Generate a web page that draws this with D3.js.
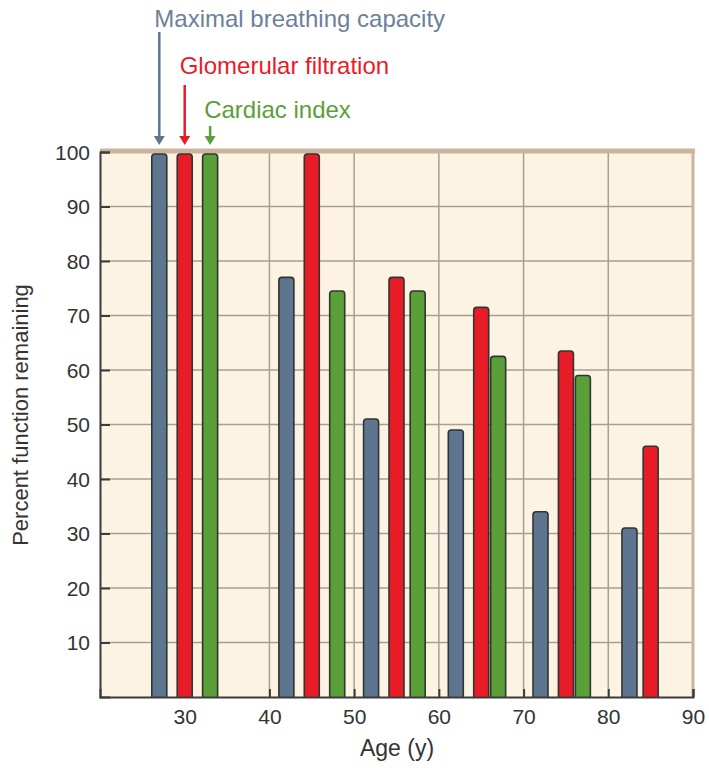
<!DOCTYPE html>
<html>
<head>
    <style>
        body { margin: 0; background: #fff; }
        text { font-family: "Liberation Sans", Arial, sans-serif; }
        .tick text { font-size: 21px; fill: #333; }
    </style>
    <script src="https://d3js.org/d3.v7.min.js"></script>
</head>
<body>
    <svg width="709" height="768"></svg>
    <script>
        // values
        const breathingAge = [27, 42, 52, 62, 72, 82.5]
        const breathingVal = [100, 77, 51, 49, 34, 31]
        const filtrationAge = [30, 45, 55, 65, 75, 85]
        const filtrationVal = [100, 100, 77, 71.5, 63.5, 46]
        const cardiacAge = [33, 48, 57.5, 67, 77]
        const cardiacVal = [100, 74.5, 74.5, 62.5, 59]
        const xTicks = [30, 40, 50, 60, 70, 80, 90]
        const yTicks = [10, 20, 30, 40, 50, 60, 70, 80, 90, 100]

        const series = [
            { name: "Maximal breathing capacity", color: "#5e7590", text: "#6c8198", ages: breathingAge, vals: breathingVal, labelY: 27, arrowTop: 32, labelDx: -5 },
            { name: "Glomerular filtration", color: "#e81c27", text: "#e81c27", ages: filtrationAge, vals: filtrationVal, labelY: 74, arrowTop: 85, labelDx: -5 },
            { name: "Cardiac index", color: "#5b9f38", text: "#5b9f38", ages: cardiacAge, vals: cardiacVal, labelY: 118, arrowTop: 126, labelDx: -6 }
        ]

        const pLeft = 100, pRight = 693, pTop = 152, pBottom = 697
        const x = d3.scaleLinear().domain([20, 90]).range([pLeft, pRight])
        const y = d3.scaleLinear().domain([0, 100]).range([pBottom, pTop])
        const barW = 15

        const svg = d3.select("svg")

        // background
        svg.append("rect")
            .attr("x", pLeft).attr("y", pTop)
            .attr("width", pRight - pLeft).attr("height", pBottom - pTop)
            .attr("fill", "#fdf3e3")

        // grid
        svg.append("g")
            .selectAll("line")
            .data(yTicks.filter(d => d < 100))
            .join("line")
            .attr("x1", pLeft).attr("x2", pRight)
            .attr("y1", d => y(d)).attr("y2", d => y(d))
            .attr("stroke", "#a59f96").attr("stroke-width", 1.5)
        svg.append("g")
            .selectAll("line")
            .data(xTicks.filter(d => d > 30 && d < 90))
            .join("line")
            .attr("x1", d => x(d)).attr("x2", d => x(d))
            .attr("y1", pTop).attr("y2", pBottom)
            .attr("stroke", "#a59f96").attr("stroke-width", 1.5)

        // top and right frame
        svg.append("line")
            .attr("x1", pLeft).attr("x2", pRight + 2)
            .attr("y1", pTop - 1).attr("y2", pTop - 1)
            .attr("stroke", "#c9b59b").attr("stroke-width", 5)
        svg.append("line")
            .attr("x1", pRight).attr("x2", pRight)
            .attr("y1", pTop).attr("y2", pBottom)
            .attr("stroke", "#c9b59b").attr("stroke-width", 3)

        // bars, rounded at the top
        function barPath(age, v) {
            const x0 = x(age) - barW / 2, x1 = x(age) + barW / 2
            const yt = Math.max(y(v), pTop + 2), yb = y(0), r = 3
            return `M${x0},${yb}V${yt + r}Q${x0},${yt} ${x0 + r},${yt}H${x1 - r}Q${x1},${yt} ${x1},${yt + r}V${yb}`
        }
        series.forEach(s => {
            svg.append("g")
                .selectAll("path")
                .data(s.ages.map((a, i) => [a, s.vals[i]]))
                .join("path")
                .attr("d", d => barPath(d[0], d[1]))
                .attr("fill", s.color)
                .attr("stroke", "#2f3533")
                .attr("stroke-width", 1.6)
        })

        // axes
        const yAxis = d3.axisLeft(y).tickValues(yTicks).tickSize(-10).tickPadding(10)
        const gy = svg.append("g").attr("transform", `translate(${pLeft},0)`).call(yAxis)
        const xAxis = d3.axisBottom(x).tickValues(xTicks).tickSize(-8).tickPadding(12)
        const gx = svg.append("g").attr("transform", `translate(0,${pBottom})`).call(xAxis)
        gx.select(".tick").select("line").remove()
        ;[gx, gy].forEach(g => {
            g.select(".domain").attr("stroke", "#3b3b3b").attr("stroke-width", 2)
            g.selectAll(".tick line").attr("stroke", "#3b3b3b").attr("stroke-width", 2)
        })
        gy.selectAll(".tick text").attr("dy", "0.35em")

        // axis titles
        svg.append("text")
            .attr("x", 397).attr("y", 756)
            .attr("text-anchor", "middle")
            .attr("font-size", 23).attr("fill", "#333")
            .text("Age (y)")
        svg.append("text")
            .attr("transform", "translate(28,415) rotate(-90)")
            .attr("text-anchor", "middle")
            .attr("font-size", 22).attr("fill", "#333")
            .text("Percent function remaining")

        // series labels with arrows
        series.forEach(s => {
            const ax = x(s.ages[0])
            const tip = pTop - 7
            svg.append("text")
                .attr("x", ax + s.labelDx).attr("y", s.labelY)
                .attr("font-size", 24).attr("fill", s.text)
                .text(s.name)
            svg.append("line")
                .attr("x1", ax).attr("x2", ax)
                .attr("y1", s.arrowTop).attr("y2", tip - 8)
                .attr("stroke", s.color).attr("stroke-width", 2.5)
            svg.append("path")
                .attr("d", `M${ax - 5.5},${tip - 9}L${ax + 5.5},${tip - 9}L${ax},${tip}Z`)
                .attr("fill", s.color)
        })
    </script>
</body>
</html>
